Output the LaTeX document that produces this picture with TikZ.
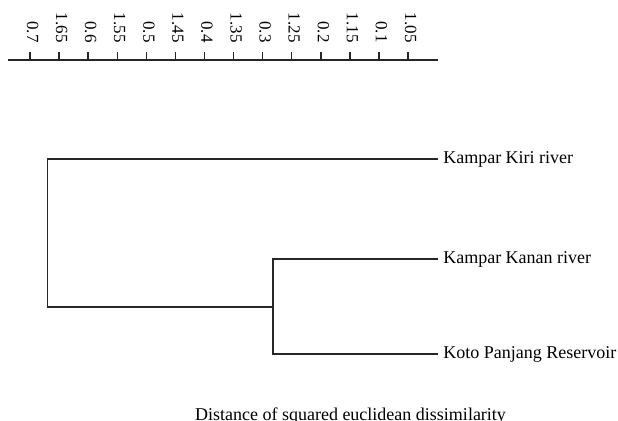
\documentclass[tikz,border=0pt]{standalone}
\usepackage{fontspec}
\setmainfont{Liberation Serif}
\begin{document}
\begin{tikzpicture}[x=0.75pt,y=-0.75pt,
  branch/.style={line width=1.25pt,color=black!85},
  axisline/.style={line width=1.1pt,color=black!85},
  leaf/.style={anchor=west,inner ysep=0pt,inner xsep=3.75pt,font=\fontsize{13.5}{16}\selectfont},
  ticklab/.style={rotate=-90,anchor=base east,inner sep=0pt,font=\fontsize{12.75}{15}\selectfont},
  title/.style={anchor=base,inner sep=0pt,font=\fontsize{13.5}{16}\selectfont}]
\useasboundingbox (0,0) rectangle (618,421);
% axis
\coordinate (axL) at (8,60);
\coordinate (axR) at (438,60);
\draw[axisline] (axL) -- (axR);
\foreach \lab [count=\i from 0] in {0.7,1.65,0.6,1.55,0.5,1.45,0.4,1.35,0.3,1.25,0.2,1.15,0.1,1.05}{
  \coordinate (t\i) at ({30+\i*29.08},60);
  \draw[axisline] (t\i) -- ++(0,-8);
  \node[ticklab] (l\i) at ({27+\i*29.08},43) {\lab};
}
% leaves
\node[leaf] (kiri) at (438,159) {Kampar Kiri river};
\node[leaf] (kanan) at (438,259) {Kampar Kanan river};
\node[leaf] (koto) at (438,354) {Koto Panjang Reservoir};
% junctions
\coordinate (j1) at (273,307);
\coordinate (root) at (47.5,307);
\draw[branch] (kanan.west) -| (j1) |- (koto.west);
\draw[branch] (j1) -- (root) |- (kiri.west);
% title
\node[title] (ttl) at (350.5,420) {Distance of squared euclidean dissimilarity};
\end{tikzpicture}
\end{document}
